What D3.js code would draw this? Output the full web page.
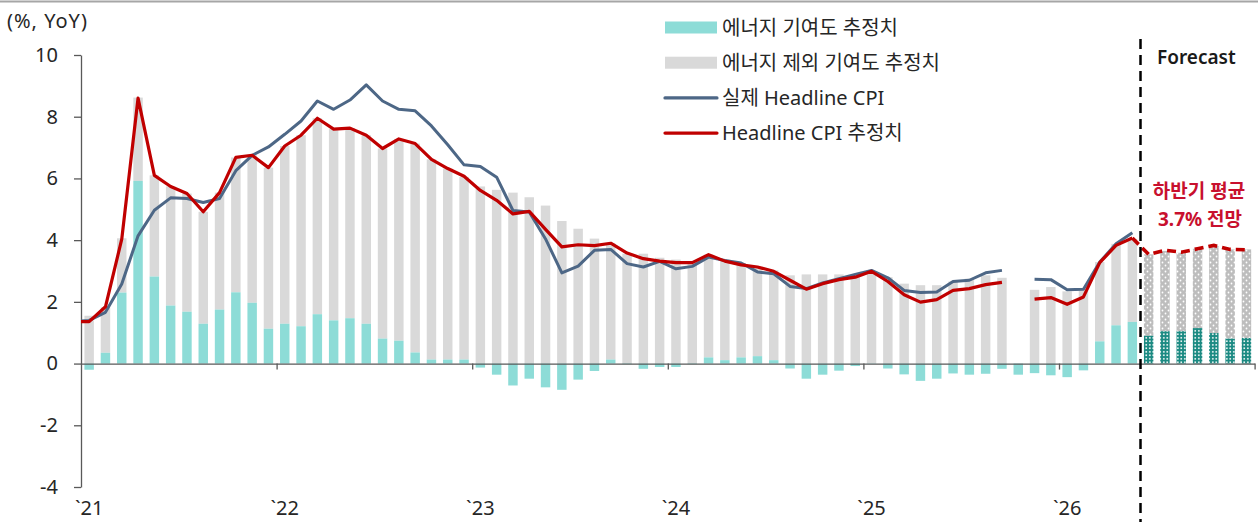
<!DOCTYPE html>
<html>
<head>
<meta charset="utf-8">
<script src="https://cdn.jsdelivr.net/npm/d3@7"></script>
<style>
  html, body { margin: 0; padding: 0; background: #fff; }
  svg { display: block; }
</style>
</head>
<body>
<svg id="chart"></svg>
<script>
// Monthly, Jan 2021 .. Dec 2026 (index 0..71); Jun-Dec 2026 are forecast
const months = d3.range(72);
const yearLabels = ["`21", "`22", "`23", "`24", "`25", "`26"];
const forecastStart = 65;

// Energy contribution (%p)
const energy = [
  -0.20, 0.35, 2.30, 5.92, 2.82, 1.88, 1.68, 1.29, 1.75, 2.31, 1.97, 1.13,
  1.29, 1.21, 1.60, 1.40, 1.47, 1.29, 0.81, 0.74, 0.36, 0.13, 0.13, 0.13,
  -0.13, -0.36, -0.71, -0.49, -0.77, -0.85, -0.52, -0.24, 0.13, -0.02, -0.17, -0.11,
  -0.11, -0.02, 0.20, 0.11, 0.20, 0.24, 0.11, -0.16, -0.49, -0.36, -0.23, -0.08,
  0.01, -0.16, -0.35, -0.56, -0.49, -0.32, -0.36, -0.33, -0.17, -0.36, -0.31, -0.38,
  -0.44, -0.22, 0.72, 1.24, 1.35, 0.90, 1.05, 1.05, 1.15, 0.99, 0.81, 0.83
];

// Ex-energy contribution (%p)
const exEnergy = [
  1.55, 1.47, 1.76, 2.70, 3.28, 3.86, 3.83, 3.63, 3.79, 4.37, 4.78, 5.22,
  5.76, 6.19, 6.35, 6.20, 6.16, 6.11, 6.16, 6.54, 6.77, 6.49, 6.19, 5.92,
  5.74, 5.63, 5.54, 5.39, 5.12, 4.62, 4.37, 4.05, 3.77, 3.56, 3.56, 3.43,
  3.37, 3.29, 3.33, 3.26, 3.06, 2.89, 2.91, 2.86, 2.89, 2.89, 2.89, 2.80,
  2.98, 2.80, 2.59, 2.54, 2.54, 2.66, 2.75, 2.86, 2.78, null, 2.39, 2.48,
  2.34, 2.37, 2.57, 2.64, 2.68, 2.64, 2.60, 2.54, 2.57, 2.82, 2.89, 2.87
];

// Actual headline CPI (% YoY); lead value is Dec 2020 (clipped at the axis)
const cpiLead = 1.36;
const cpiActual = [
  1.40, 1.66, 2.58, 4.14, 4.97, 5.37, 5.35, 5.22, 5.35, 6.25, 6.75, 7.02,
  7.43, 7.86, 8.51, 8.24, 8.54, 9.03, 8.51, 8.24, 8.19, 7.70, 7.09, 6.44,
  6.39, 6.04, 4.96, 4.91, 4.04, 2.94, 3.16, 3.67, 3.70, 3.24, 3.13, 3.31,
  3.07, 3.15, 3.45, 3.34, 3.26, 2.97, 2.91, 2.50, 2.43, 2.61, 2.75, 2.89,
  3.02, 2.78, 2.37, 2.30, 2.32, 2.66, 2.70, 2.94, 3.02, null, 2.73, 2.72,
  2.39, 2.41, 3.29, 3.88, 4.24
];

// Estimated headline CPI (% YoY)
const estLead = 1.36;
const cpiEstimate = [
  1.36, 1.84, 4.03, 8.60, 6.10, 5.74, 5.51, 4.92, 5.54, 6.68, 6.75, 6.35,
  7.05, 7.40, 7.95, 7.60, 7.63, 7.40, 6.97, 7.28, 7.13, 6.62, 6.32, 6.07,
  5.61, 5.29, 4.85, 4.93, 4.35, 3.78, 3.85, 3.82, 3.90, 3.58, 3.40, 3.32,
  3.27, 3.27, 3.53, 3.32, 3.20, 3.13, 2.99, 2.70, 2.41, 2.59, 2.72, 2.80,
  2.99, 2.66, 2.23, 1.99, 2.07, 2.37, 2.43, 2.56, 2.63, null, 2.09, 2.14,
  1.92, 2.16, 3.27, 3.83, 4.07
];
// Forecast path, May 2026 .. Dec 2026
const cpiForecast = [4.07, 3.54, 3.67, 3.61, 3.72, 3.83, 3.70, 3.69];

const yTicks = [-4, -2, 0, 2, 4, 6, 8, 10];

const W = 1258, H = 522;
const FONT = "'Noto Sans', 'Noto Sans CJK KR', sans-serif";
const C_ENERGY = "#8ddcd7", C_EXE = "#d9d9d9", C_BLUE = "#4d6786", C_RED = "#c00000";
const C_AXIS = "#595959", C_TEXT = "#262626";

const svg = d3.select("#chart").attr("width", W).attr("height", H);

const x = d3.scaleBand().domain(months).range([81, 1254.6]).paddingInner(0.42).paddingOuter(0.21);
const xc = i => x(i) + x.bandwidth() / 2;
const xl = d3.scaleLinear().domain([0, 72]).range([81, 1254.6]);
const y = d3.scaleLinear().domain([-4, 10]).range([487, 55]);

// patterns for forecast bars
const defs = svg.append("defs");
const pDot = defs.append("pattern").attr("id", "dots").attr("patternUnits", "userSpaceOnUse")
  .attr("width", 6).attr("height", 6);
pDot.append("rect").attr("width", 6).attr("height", 6).attr("fill", "#bdbdbd");
pDot.append("circle").attr("cx", 1.5).attr("cy", 1.5).attr("r", 0.9).attr("fill", "#fff");
pDot.append("circle").attr("cx", 4.5).attr("cy", 4.5).attr("r", 0.9).attr("fill", "#fff");
const pGrid = defs.append("pattern").attr("id", "grid").attr("patternUnits", "userSpaceOnUse")
  .attr("width", 3.5).attr("height", 3.5);
pGrid.append("rect").attr("width", 3.5).attr("height", 3.5).attr("fill", "#1b8a82");
pGrid.append("rect").attr("x", 1).attr("y", 1).attr("width", 1.6).attr("height", 1.6).attr("fill", "#fff");
defs.append("clipPath").attr("id", "plotClip")
  .append("rect").attr("x", 81).attr("y", 0).attr("width", W - 81).attr("height", H);

// top rule
svg.append("line").attr("x1", 0).attr("x2", W).attr("y1", 1.5).attr("y2", 1.5)
  .attr("stroke", "#a6a6a6").attr("stroke-width", 2);

// bars
const bars = svg.append("g");
months.forEach(i => {
  const e = energy[i], xe = exEnergy[i];
  const fc = i >= forecastStart;
  const base = Math.max(e, 0);
  if (xe != null) {
    bars.append("rect")
      .attr("x", x(i)).attr("width", x.bandwidth())
      .attr("y", y(base + xe)).attr("height", y(base) - y(base + xe))
      .attr("fill", fc ? "url(#dots)" : C_EXE);
  }
  bars.append("rect")
    .attr("x", x(i)).attr("width", x.bandwidth())
    .attr("y", y(Math.max(e, 0))).attr("height", Math.abs(y(e) - y(0)))
    .attr("fill", fc ? "url(#grid)" : C_ENERGY);
});

// axes
svg.append("g")
  .attr("transform", "translate(81,0)")
  .call(d3.axisLeft(y).tickValues(yTicks).tickSize(7).tickSizeOuter(0).tickPadding(16)
    .tickFormat(d => String(d)))
  .call(ax => {
    ax.select(".domain").attr("stroke", C_AXIS).attr("stroke-width", 1.3);
    ax.selectAll(".tick line").attr("stroke", C_AXIS).attr("stroke-width", 1.3);
    ax.selectAll(".tick text").attr("fill", C_TEXT).style("font-size", "20px").style("font-family", FONT);
  });

svg.append("g")
  .attr("transform", `translate(0,${y(0)})`)
  .call(d3.axisBottom(xl).tickValues([12, 24, 36, 48, 60, 72]).tickSize(6).tickSizeOuter(0).tickFormat(""))
  .call(ax => {
    ax.select(".domain").attr("stroke", C_AXIS).attr("stroke-width", 1.3);
    ax.selectAll(".tick line").attr("stroke", C_AXIS).attr("stroke-width", 1.3);
  });

svg.append("g").selectAll("text")
  .data(yearLabels).join("text")
  .attr("x", (d, k) => xc(k * 12)).attr("y", 515)
  .attr("text-anchor", "middle")
  .attr("fill", C_TEXT).style("font-size", "20px").style("font-family", FONT)
  .text(d => d);

svg.append("text")
  .attr("x", 7).attr("y", 28)
  .attr("fill", C_TEXT).style("font-size", "20px").style("letter-spacing", "1px").style("font-family", FONT)
  .text("(%, YoY)");

// lines
const lines = svg.append("g").attr("clip-path", "url(#plotClip)");
const withLead = (lead, arr) => [{ i: -1, v: lead }].concat(arr.map((v, i) => ({ i, v })));
const lineGen = d3.line().defined(d => d.v != null).x(d => xc(0) + d.i * x.step()).y(d => y(d.v));

lines.append("path").datum(withLead(cpiLead, cpiActual))
  .attr("d", lineGen).attr("fill", "none")
  .attr("stroke", C_BLUE).attr("stroke-width", 3).attr("stroke-linejoin", "round");
lines.append("path").datum(withLead(estLead, cpiEstimate))
  .attr("d", lineGen).attr("fill", "none")
  .attr("stroke", C_RED).attr("stroke-width", 3.2).attr("stroke-linejoin", "round");
lines.append("path").datum(cpiForecast.map((v, k) => ({ i: forecastStart - 1 + k, v })))
  .attr("d", lineGen).attr("fill", "none")
  .attr("stroke", C_RED).attr("stroke-width", 3.6).attr("stroke-dasharray", "9,5");

// forecast divider
const xDiv = x(forecastStart) - x.step() * 0.21;
svg.append("line")
  .attr("x1", xDiv).attr("x2", xDiv).attr("y1", 39).attr("y2", H)
  .attr("stroke", "#000").attr("stroke-width", 2.5).attr("stroke-dasharray", "10,6");

svg.append("text")
  .attr("x", 1157).attr("y", 64)
  .attr("fill", "#1a1a1a").style("font-size", "19px").style("font-weight", "600").style("font-family", FONT)
  .text("Forecast");

const note = svg.append("text")
  .attr("text-anchor", "middle").attr("fill", "#c8102e")
  .style("font-size", "19px").style("font-weight", "700").style("font-family", FONT);
note.append("tspan").attr("x", 1199).attr("y", 198).text("하반기 평균");
note.append("tspan").attr("x", 1200).attr("y", 226).text("3.7% 전망");

// legend
const legend = [
  { type: "rect", color: C_ENERGY, label: "에너지 기여도 추정치" },
  { type: "rect", color: C_EXE, label: "에너지 제외 기여도 추정치" },
  { type: "line", color: C_BLUE, label: "실제 Headline CPI" },
  { type: "line", color: C_RED, label: "Headline CPI 추정치" }
];
const lg = svg.append("g");
legend.forEach((d, k) => {
  const cy = 27.5 + k * 35.2;
  if (d.type === "rect") {
    lg.append("rect").attr("x", 665).attr("y", cy - 6).attr("width", 52).attr("height", 12).attr("fill", d.color);
  } else {
    lg.append("line").attr("x1", 665).attr("x2", 717).attr("y1", cy).attr("y2", cy)
      .attr("stroke", d.color).attr("stroke-width", 3.2).attr("stroke-linecap", "round");
  }
  lg.append("text").attr("x", 722).attr("y", cy + 7)
    .attr("fill", C_TEXT).style("font-size", "20px").style("font-family", FONT)
    .text(d.label);
});
</script>
</body>
</html>
